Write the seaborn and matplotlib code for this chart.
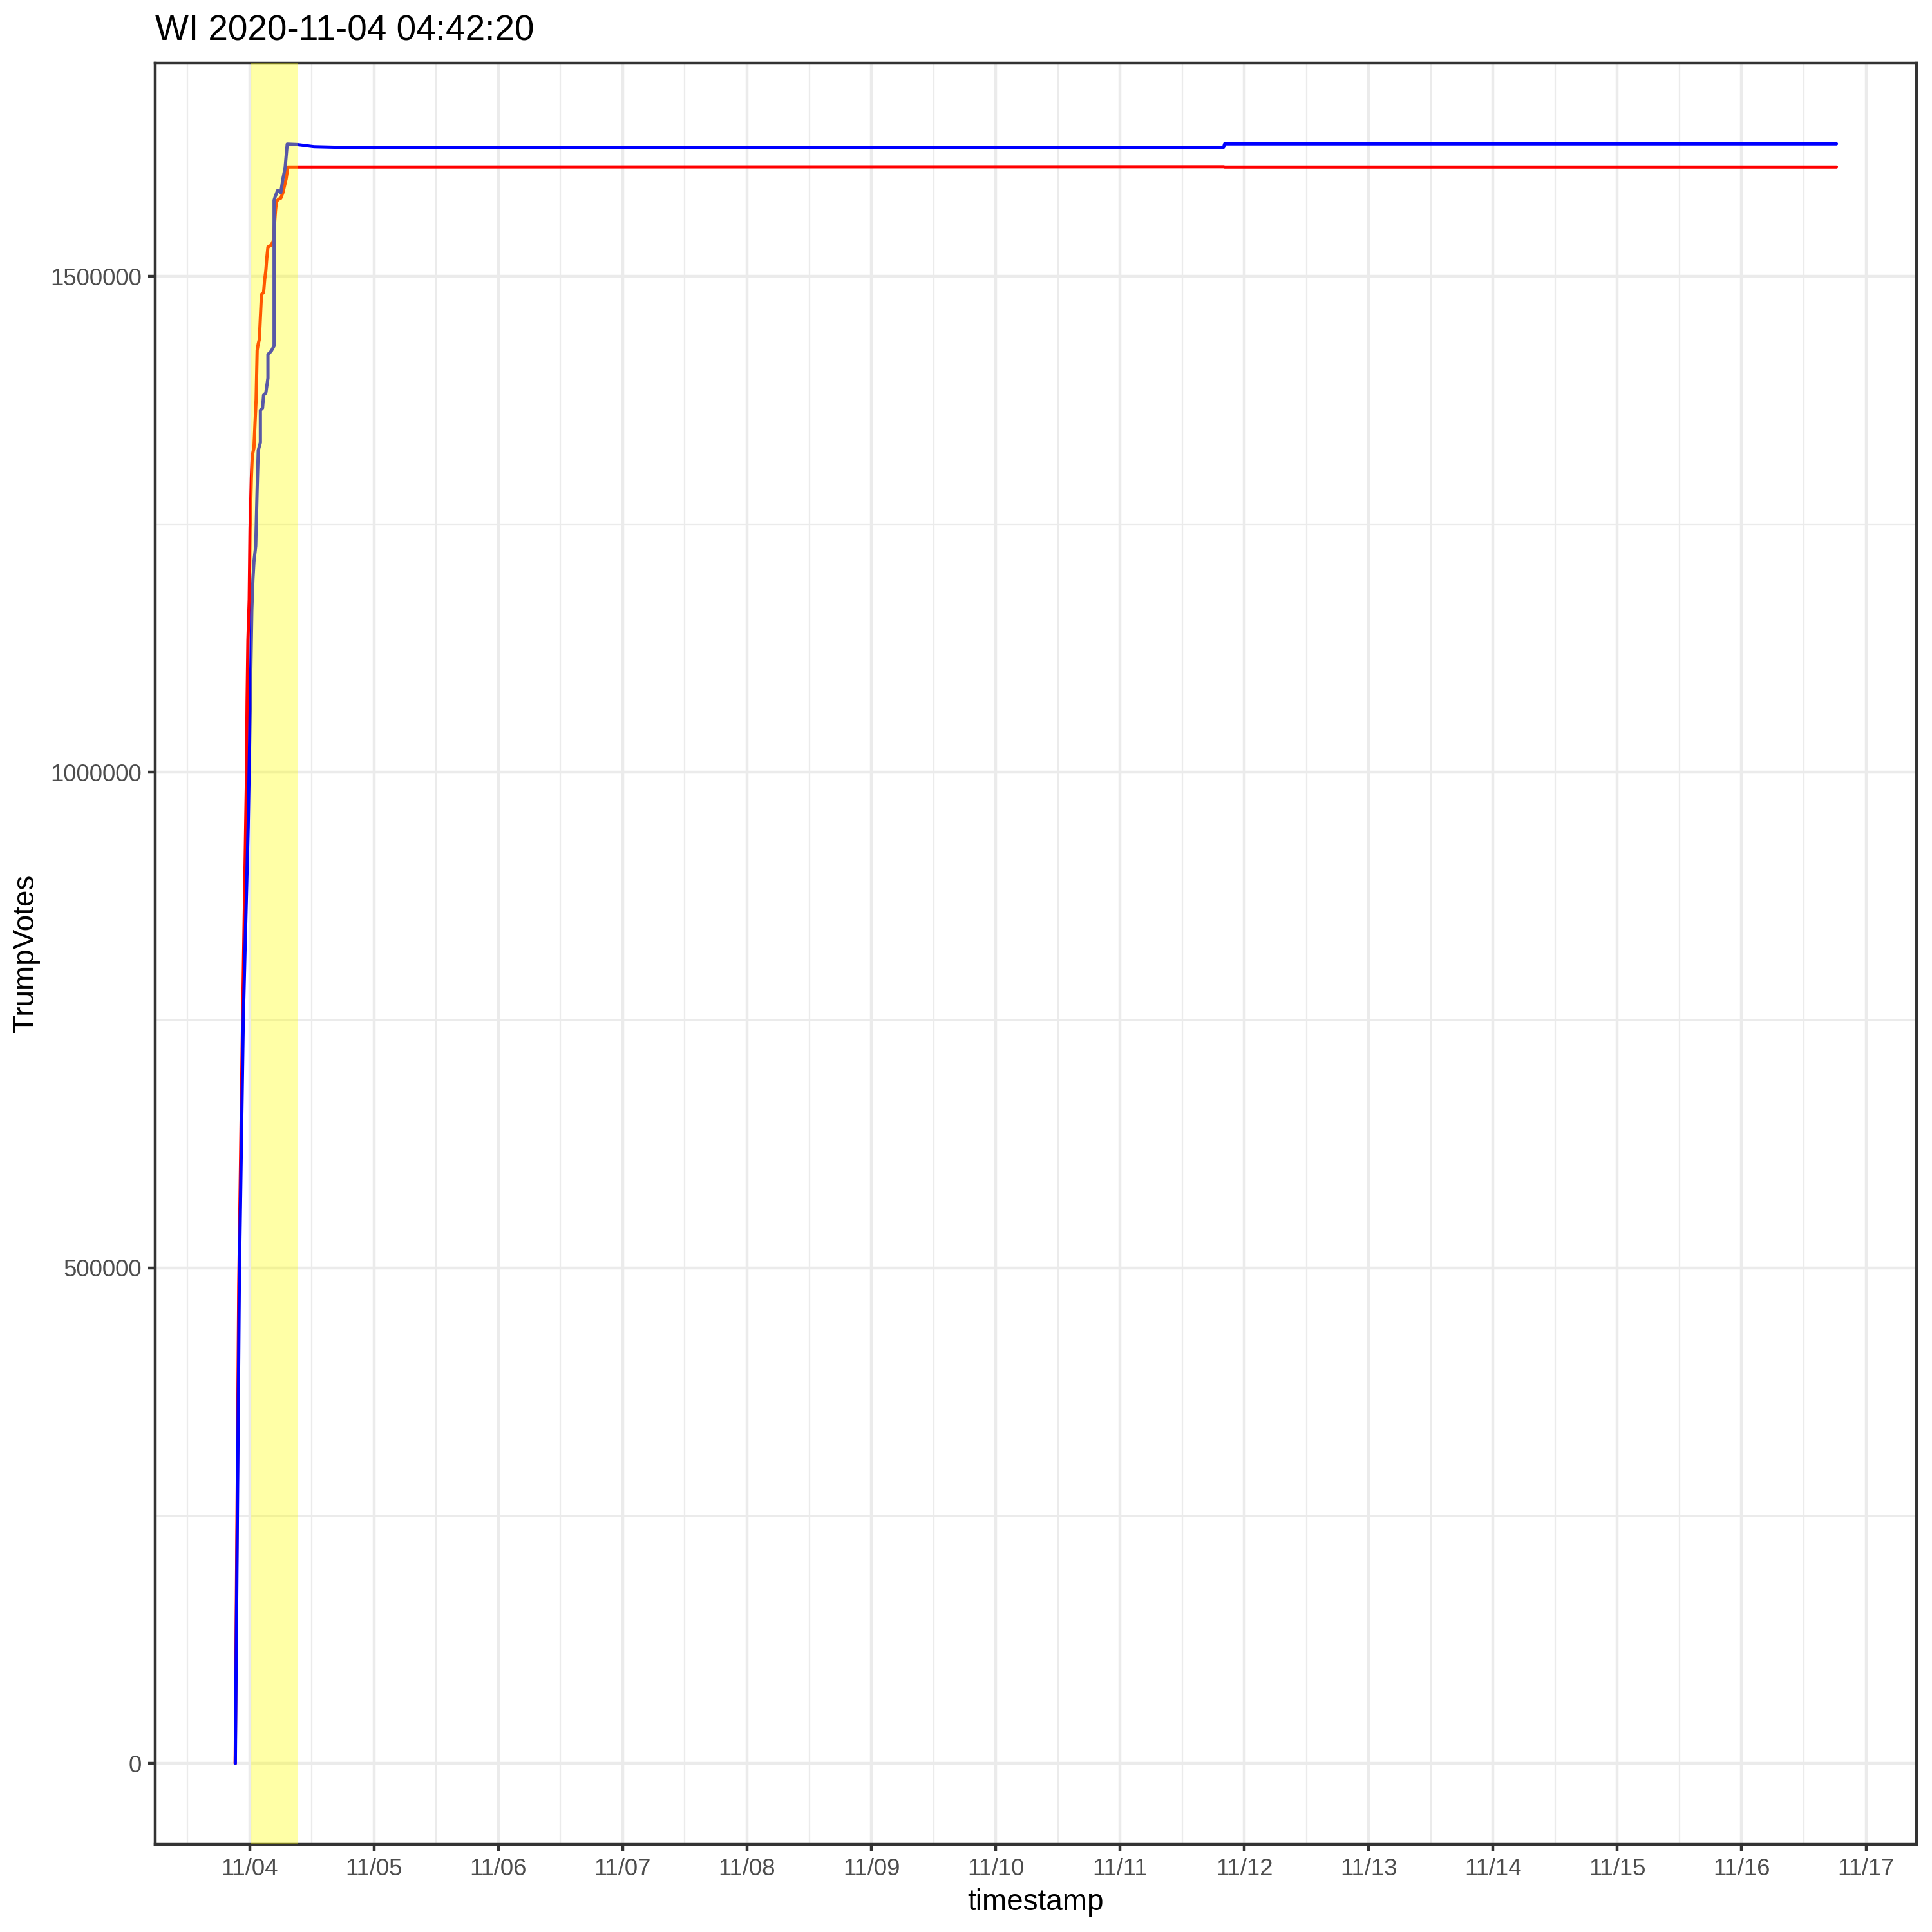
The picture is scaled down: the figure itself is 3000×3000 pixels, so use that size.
import matplotlib

matplotlib.use("Agg")
import matplotlib.dates as mdates
import matplotlib.pyplot as plt
import matplotlib.ticker as mticker
import pandas as pd
import seaborn as sns

STATE = "WI"
EVENT_TIME = "2020-11-04 04:42:20"
BASE_TIME = "2020-11-04 00:00:00"
WINDOW_HOURS = 4.5

# hours after 2020-11-04 00:00 and cumulative votes
biden_hours = [
    -2.78, -2.0, -1.24, -0.3, 0.0, 0.2, 0.41, 0.62, 0.82, 1.16, 1.44, 1.65,
    2.06, 2.06, 2.48, 2.68, 3.11, 3.52, 3.52, 4.14, 4.706, 4.706, 4.97, 5.38,
    5.79, 6.0, 6.41, 6.83, 7.24, 9.1, 12.42, 17.8, 188.0, 188.2, 306.3,
]
biden_votes = [
    0, 490000, 750900, 945000, 1033600, 1097800, 1163900, 1194400, 1212500,
    1228100, 1286500, 1324700, 1332500, 1365100, 1367300, 1380300, 1382400,
    1397600, 1421400, 1424600, 1430000, 1577000, 1581300, 1586700, 1585600,
    1584600, 1598600, 1609400, 1633600, 1633200, 1631000, 1630300, 1630500,
    1633900, 1633900,
]
trump_hours = [
    -2.8, -2.11, -1.37, -0.75, -0.62, -0.5, -0.34, -0.09, 0.07, 0.32, 0.5,
    0.82, 1.03, 1.24, 1.44, 1.65, 1.86, 2.27, 2.68, 2.89, 3.11, 3.3, 3.52,
    4.14, 4.55, 4.97, 5.17, 5.59, 6.0, 6.41, 7.03, 7.37, 188.0, 188.2, 306.3,
]
trump_votes = [
    0, 481100, 750900, 952600, 995300, 1071900, 1133400, 1174300, 1245600,
    1296800, 1319500, 1327300, 1352600, 1376000, 1425700, 1432200, 1436500,
    1481800, 1484000, 1497000, 1505600, 1518600, 1529800, 1531600, 1535900,
    1566100, 1575900, 1578000, 1579100, 1584600, 1598600, 1610500, 1610800,
    1610500, 1610500,
]


def build_frame():
    base = pd.Timestamp(BASE_TIME)
    parts = []
    for name, hours, votes in [
        ("Trump", trump_hours, trump_votes),
        ("Biden", biden_hours, biden_votes),
    ]:
        parts.append(pd.DataFrame({
            "timestamp": base + pd.to_timedelta(hours, unit="h"),
            "votes": votes,
            "candidate": name,
        }))
    return pd.concat(parts, ignore_index=True)


def main():
    df = build_frame()

    sns.set_style("white")
    plt.rcParams["font.family"] = ["Liberation Sans", "DejaVu Sans"]

    fig, ax = plt.subplots(figsize=(10, 10), dpi=300)
    fig.subplots_adjust(left=0.0803, right=0.992, top=0.9675, bottom=0.0453)

    sns.lineplot(
        data=df, x="timestamp", y="votes", hue="candidate",
        hue_order=["Trump", "Biden"],
        palette={"Trump": "#FF0000", "Biden": "#0000FF"},
        estimator=None, sort=False, legend=False, linewidth=1.2, ax=ax,
    )

    # highlight window around the event, drawn over the lines
    event = pd.Timestamp(EVENT_TIME)
    half = pd.Timedelta(hours=WINDOW_HOURS)
    ax.axvspan(event - half, event + half, color="#FFFF00", alpha=0.35,
               lw=0, zorder=3)

    ax.margins(x=0.05, y=0.05)

    ax.xaxis.set_major_locator(mdates.DayLocator())
    ax.xaxis.set_minor_locator(mdates.HourLocator(byhour=[12]))
    ax.xaxis.set_major_formatter(mdates.DateFormatter("%m/%d"))
    ax.yaxis.set_major_locator(mticker.MultipleLocator(500000))
    ax.yaxis.set_minor_locator(mticker.MultipleLocator(250000))
    ax.yaxis.set_major_formatter(mticker.StrMethodFormatter("{x:.0f}"))

    ax.set_axisbelow(True)
    ax.grid(which="major", color="#EBEBEB", linewidth=1.07)
    ax.grid(which="minor", color="#EBEBEB", linewidth=0.53)

    for spine in ax.spines.values():
        spine.set_color("#333333")
        spine.set_linewidth(1.07)

    ax.tick_params(which="major", length=2.75, width=1.07, color="#333333",
                   labelsize=8.8, labelcolor="#4D4D4D", pad=2.2,
                   bottom=True, left=True)
    ax.tick_params(which="minor", length=0)

    ax.set_xlabel("timestamp", fontsize=11, color="black", labelpad=3)
    ax.set_ylabel("TrumpVotes", fontsize=11, color="black", labelpad=4)
    ax.set_title(f"{STATE} {EVENT_TIME}", loc="left", fontsize=13.2,
                 color="black", pad=8.5)

    fig.savefig("out.png", dpi=300)
    plt.close(fig)


if __name__ == "__main__":
    main()
